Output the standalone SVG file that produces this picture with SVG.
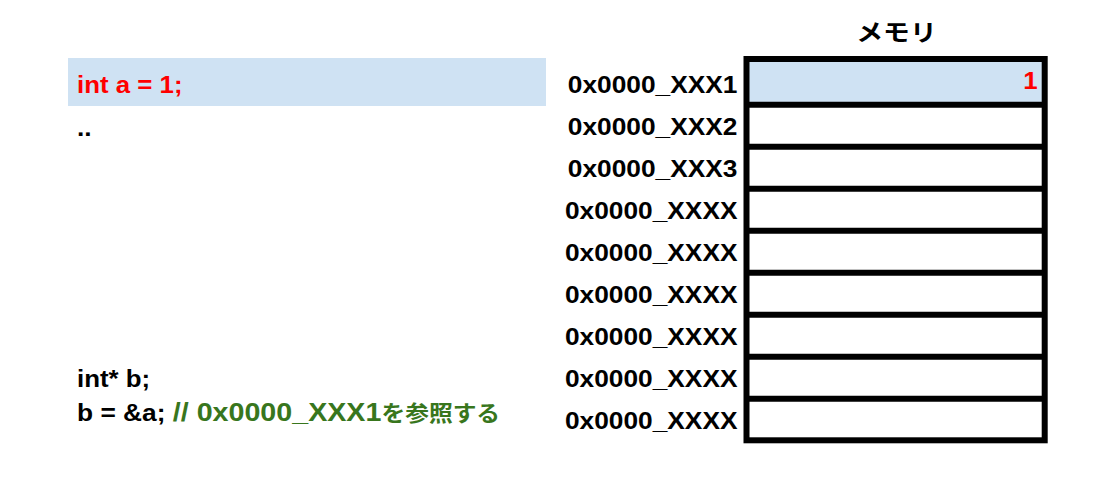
<svg xmlns="http://www.w3.org/2000/svg" width="1098" height="482" viewBox="0 0 1098 482">
<style>
.t{font-family:"Liberation Sans",Arial,"Noto Sans CJK JP",sans-serif;font-weight:bold;font-size:23.5px;fill:#000}
.jp{font-family:"Noto Sans CJK JP","Liberation Sans",sans-serif;font-weight:bold}
.addr{text-anchor:end}
.red{fill:#ff0000}
.green{fill:#38761d}
.hl{fill:#cfe2f3}
.cell{fill:none;stroke:#000;stroke-width:6}
</style>
<rect width="1098" height="482" fill="#fff"/>
<g id="code">
  <rect class="hl" x="68" y="58" width="478" height="48"/>
  <text class="t red" transform="translate(77,93.3) scale(1.1,1)">int a = 1;</text>
  <text class="t" transform="translate(77,135.5) scale(1.12,1)">..</text>
  <text class="t" transform="translate(77,386.7) scale(1.1,1)">int* b;</text>
  <text class="t" transform="translate(77,420.7) scale(1.12,1)">b = &amp;a; <tspan class="green" font-size="25.6">// 0x0000_XXX1</tspan><tspan class="green jp" font-size="21.2">を参照する</tspan></text>
</g>
<g id="memory">
  <text class="t jp" text-anchor="middle" font-size="22.5" transform="translate(896.5,40.5) scale(1.14,1)">メモリ</text>
  <rect class="hl" x="749" y="61" width="294" height="41"/>
  <text class="t red" text-anchor="end" font-size="26" transform="translate(1037.5,89.3) scale(1.1,1)">1</text>
  <rect class="cell" x="746.5" y="59" width="298.2" height="381.3"/>
  <g id="dividers" stroke="#000" stroke-width="6">
    <line x1="746.5" y1="104.7" x2="1044.7" y2="104.7"/>
    <line x1="746.5" y1="146.7" x2="1044.7" y2="146.7"/>
    <line x1="746.5" y1="188.7" x2="1044.7" y2="188.7"/>
    <line x1="746.5" y1="230.7" x2="1044.7" y2="230.7"/>
    <line x1="746.5" y1="272.7" x2="1044.7" y2="272.7"/>
    <line x1="746.5" y1="314.7" x2="1044.7" y2="314.7"/>
    <line x1="746.5" y1="356.7" x2="1044.7" y2="356.7"/>
    <line x1="746.5" y1="398.7" x2="1044.7" y2="398.7"/>
  </g>
</g>
<g id="addresses">
  <text class="t addr" transform="translate(737.5,92.5) scale(1.12,1)">0x0000_XXX1</text>
  <text class="t addr" transform="translate(737.5,134.6) scale(1.12,1)">0x0000_XXX2</text>
  <text class="t addr" transform="translate(737.5,176.7) scale(1.12,1)">0x0000_XXX3</text>
  <text class="t addr" transform="translate(737.5,218.8) scale(1.12,1)">0x0000_XXXX</text>
  <text class="t addr" transform="translate(737.5,260.9) scale(1.12,1)">0x0000_XXXX</text>
  <text class="t addr" transform="translate(737.5,303) scale(1.12,1)">0x0000_XXXX</text>
  <text class="t addr" transform="translate(737.5,345.1) scale(1.12,1)">0x0000_XXXX</text>
  <text class="t addr" transform="translate(737.5,387.2) scale(1.12,1)">0x0000_XXXX</text>
  <text class="t addr" transform="translate(737.5,429.3) scale(1.12,1)">0x0000_XXXX</text>
</g>
</svg>
